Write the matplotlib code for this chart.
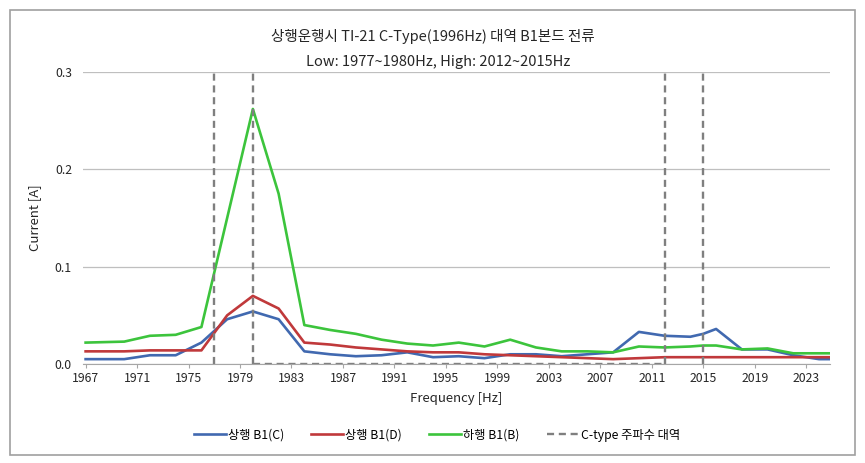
import matplotlib
matplotlib.use("Agg")
import matplotlib.pyplot as plt
from matplotlib.patches import Rectangle

plt.rcParams['font.family'] = ['Noto Sans CJK KR', 'DejaVu Sans']

# measurement frequencies [Hz]
freq = [1967, 1970, 1972, 1974, 1976, 1978, 1980, 1982, 1984, 1986, 1988,
        1990, 1992, 1994, 1996, 1998, 2000, 2002, 2004, 2006, 2008, 2010,
        2012, 2014, 2015, 2016, 2018, 2020, 2022, 2024, 2025]

up_c = [0.005, 0.005, 0.009, 0.009, 0.022, 0.046, 0.054, 0.046, 0.013, 0.010,
        0.008, 0.009, 0.012, 0.007, 0.008, 0.006, 0.010, 0.010, 0.008, 0.010,
        0.012, 0.033, 0.029, 0.028, 0.031, 0.036, 0.015, 0.015, 0.009, 0.005, 0.005]

up_d = [0.013, 0.013, 0.014, 0.014, 0.014, 0.050, 0.070, 0.057, 0.022, 0.020,
        0.017, 0.015, 0.013, 0.012, 0.012, 0.010, 0.009, 0.008, 0.007, 0.006,
        0.005, 0.006, 0.007, 0.007, 0.007, 0.007, 0.007, 0.007, 0.007, 0.007, 0.007]

down_b = [0.022, 0.023, 0.029, 0.030, 0.038, 0.150, 0.262, 0.175, 0.040, 0.035,
          0.031, 0.025, 0.021, 0.019, 0.022, 0.018, 0.025, 0.017, 0.013, 0.013,
          0.012, 0.018, 0.017, 0.018, 0.019, 0.019, 0.015, 0.016, 0.011, 0.011, 0.011]

band_edges = [1977, 1980, 2012, 2015]
band_top = 0.3

xticks = list(range(1967, 2024, 4))
yticks = [0.0, 0.1, 0.2, 0.3]

fig = plt.figure(figsize=(8.65, 4.63), dpi=100)
fig.patches.append(Rectangle((10 / 865, 8 / 463), 845 / 865, 445 / 463,
                             transform=fig.transFigure, fill=False,
                             edgecolor='#a0a0a0', lw=1.2))
ax = fig.add_axes([0.096, 0.2138, 0.8635, 0.6307])

ax.plot(freq, up_c, color='#4169b0', lw=1.9, label='상행 B1(C)')
ax.plot(freq, up_d, color='#c0393b', lw=1.9, label='상행 B1(D)')
ax.plot(freq, down_b, color='#3cc43c', lw=1.9, label='하행 B1(B)')

# C-type band marker
dash = dict(color='#7f7f7f', lw=1.7, dashes=(3, 2))
for i, f in enumerate(band_edges):
    ax.plot([f, f], [0, band_top], **dash,
            label='C-type 주파수 대역' if i == 0 else None)
ax.plot([band_edges[1], band_edges[2]], [0, 0], **dash)

ax.set_xlim(1966.8, 2024.85)
ax.set_ylim(0, 0.3)
ax.set_xticks(xticks)
ax.set_yticks(yticks)
ax.set_yticklabels(['%.1f' % v for v in yticks])
ax.grid(axis='y', color='#bfbfbf', lw=0.9)
ax.set_axisbelow(True)
for s in ['top', 'right', 'left']:
    ax.spines[s].set_visible(False)
ax.spines['bottom'].set_color('#a6a6a6')
ax.tick_params(axis='x', length=3, color='#a6a6a6', labelsize=8.8,
               labelcolor='#262626', pad=3)
ax.tick_params(axis='y', length=0, labelsize=8.8, labelcolor='#262626', pad=8)

ax.set_xlabel('Frequency [Hz]', fontsize=9.5, color='#262626', labelpad=5)
ax.set_ylabel('Current [A]', fontsize=9.5, color='#262626', labelpad=10)

fig.text(0.5, 1 - 37 / 463, '상행운행시 TI-21 C-Type(1996Hz) 대역 B1본드 전류',
         ha='center', va='center', fontsize=10.5, color='#262626')
fig.text(0.506, 1 - 62 / 463, 'Low: 1977~1980Hz, High: 2012~2015Hz',
         ha='center', va='center', fontsize=10.5, color='#262626')

fig.legend(loc='center', bbox_to_anchor=(0.505, 1 - 435 / 463), ncol=4,
           frameon=False, fontsize=8.8, handlelength=2.6, handletextpad=0.2,
           columnspacing=2.2)

fig.savefig('out.png', dpi=100)
